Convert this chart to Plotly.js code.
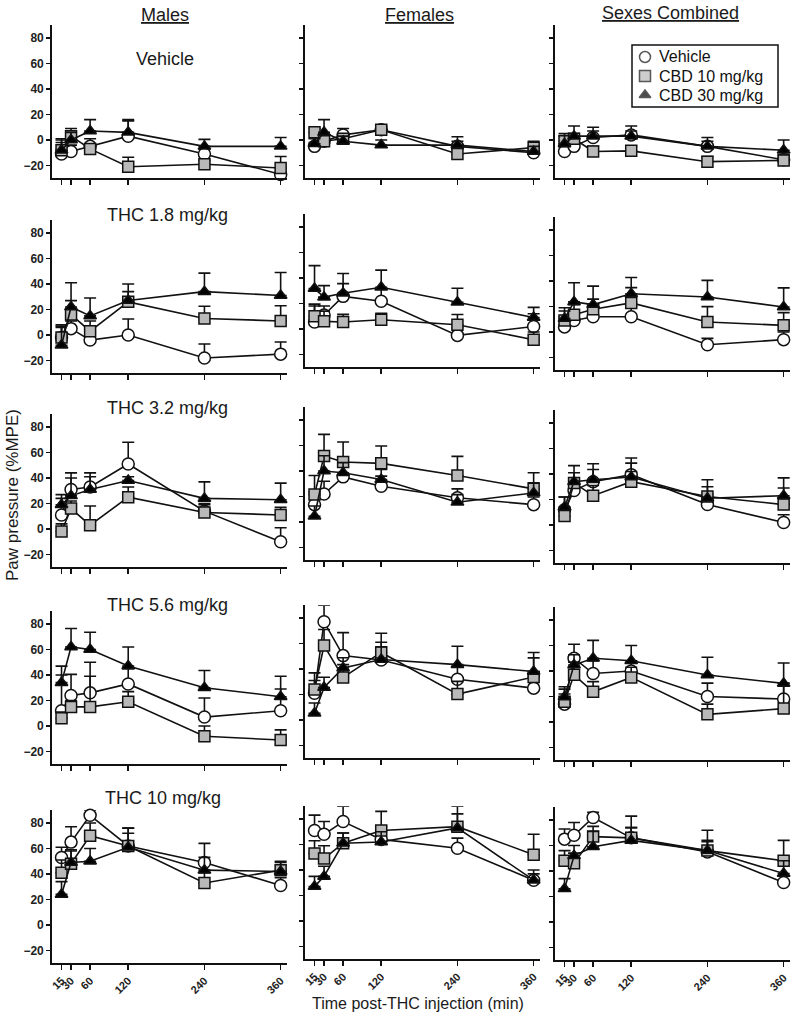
<!DOCTYPE html>
<html><head><meta charset="utf-8">
<script src="https://cdn.plot.ly/plotly-3.0.1.min.js"></script>
<style>html,body{margin:0;padding:0;background:#fff}</style>
</head><body><div id="chart" style="width:800px;height:1019px"></div>
<script>
// ---------- DATA ----------
const times = [15, 30, 60, 120, 240, 360];
const timeLabels = ['15', '30', '60', '120', '240', '360'];
const yTicks = [-20, 0, 20, 40, 60, 80];
const doseLabels = ['Vehicle', 'THC 1.8 mg/kg', 'THC 3.2 mg/kg', 'THC 5.6 mg/kg', 'THC 10 mg/kg'];
const columnTitles = ['Males', 'Females', 'Sexes Combined'];
const treatmentNames = ['Vehicle', 'CBD 10 mg/kg', 'CBD 30 mg/kg'];

// Males (rows = Vehicle, THC 1.8, 3.2, 5.6, 10)
const maleVeh = [[-11,-9,-5,3,-11,-27],[-2,5,-4,0,-18,-15],[11,31,33,51,14,-10],[12,24,26,33,7,12],[53,65,86,62,49,31]];
const maleVehErr = [[12,5,6,12,4,0],[8,6,5,12.5,11,9.5],[13,13,11,17,6,11],[28,16.5,24,12,15,17],[8,12,4,14,15,6]];
const maleC10 = [[-8,3,-7,-21,-19,-22],[-2,16,3,26,13,11],[-2,16,3,25,13,11],[6,15,15,19,-8,-11],[41,48,70,62,33,43]];
const maleC10Err = [[8,6,4,7.5,3,9],[10,11,8,8,9.5,12],[6,6,15,8,6,6],[5,5,24,8,8,8],[10,10,10,10,8,6]];
const maleC30 = [[-8,0,7,6,-5,-5],[-8,22,15,27,34,31],[19,26,31,38,24,23],[34,62,60,47,30,23],[24,49,50,61,43,42]];
const maleC30Err = [[6,6,9,10,5.5,7],[15,19,14,13,14.5,18],[8,14,10,3,13,13],[13,14.5,13.5,15,13.5,16],[10,10,10,15,10,8]];

// Females
const femVeh = [[-5,-1,4,8,-5,-10],[5.5,11,25.6,21.7,-5,2],[13.6,22,35.4,28,19,13.6],[21,77,50.5,47,32,25],[71,68,78,64,57,32]];
const femVehErr = [[3,4,5,3,4,3],[14,7,10,10,6,10],[10,10,8,8,7,6],[10,13,18,14,10,10],[12,10,12,10,8,5]];
const femC10 = [[6,-1,1,8,-11,-6],[10,6,5.5,7.3,3.4,-8.4],[21.5,51.7,47,46,36.5,26],[24,58.4,33.4,53,20.3,33.7],[53,49,61,71,74,52]];
const femC10Err = [[3,4,3,3,4,5],[8,8,6,5,8,6],[15,17,15.7,13.6,15,12.6],[13,12.6,10,15,10,15],[10,10,8,15,10,16]];
const femC30 = [[-3,6,-1,-4,-4,-9],[31.7,25,28,32.7,21,9],[4.5,40,38.6,33.3,15.5,22.8],[5.3,25.5,40.8,47.4,43.4,38],[27,35,61,62,73,32]];
const femC30Err = [[4,10,4,4,6.5,4],[18,9,15.5,13.5,11,8],[8,12,8,8,6,8],[8,8,8,10,14.5,15],[8,8,8,8,17,8]];

// Sexes combined
const combVeh = [[-9,-5,2,4,-5,-15.5],[4,9,12,12,-10,-6],[12,27,34,39.5,16,2],[14,50,38,40,20,18],[65,68,82,66,55,31]];
const combVehErr = [[4,6,8,7,7,4],[8,8,8,8,5,6],[10,8,14,9,8,6],[8,11,10,8,10.5,10],[8,10,4,8,8,5]];
const combC10 = [[-1,1,-9,-8.5,-17,-16],[9,13.6,17.8,22.8,7.9,5.2],[7,33,23,34,22.4,16],[15.8,37,23.7,35,6,10.5],[48,46,67,66,56,48]];
const combC10Err = [[4,4,4,4,4,4],[10,8,8,12,12,10],[6,8,8,8,7.6,13],[10,10,8,8,8,20],[8,8,8,8,8,16]];
const combC30 = [[-3,3,3,3,-5,-8],[10.5,23.6,21.5,30,27.5,19.6],[14,34,35.5,37.6,21,23],[19.7,44.7,50,48,36.8,30.3],[26,52,59,64,56,38]];
const combC30Err = [[8,8,4,4,4,8],[6,15,14.5,12.7,13,15],[8,12.6,8,15,14.5,14],[8,8,14,12,14,16],[8,8,12,19,16,10]];

// ---------- LAYOUT GEOMETRY ----------
const W = 800, H = 1019;
const FONT = 'Liberation Sans, Arial, Helvetica, sans-serif';
const colX = [[52, 287], [305, 540], [555, 790]];
const zeroY = [[140,140,140],[335,329,332],[529,522,525],[726,720,722],[925,921,922]];
const PXU = 1.275;   // px per unit
const Y0 = -30, Y1 = 90;
// legend box (px): left, right, top, bottom; symbol column and row centres
const LEG = {l: 632, r: 778, t: 45, b: 107, symX: 645, textX: 658, rows: [57, 76, 95]};

const styles = [
  {symbol: 'circle', size: 12, color: '#ffffff'},
  {symbol: 'square', size: 11, color: '#b9b9b9'},
  {symbol: 'triangle-up', size: 11, color: '#000000'}
];
const seriesByCol = [[maleVeh, maleC10, maleC30], [femVeh, femC10, femC30], [combVeh, combC10, combC30]];
const errByCol = [[maleVehErr, maleC10Err, maleC30Err], [femVehErr, femC10Err, femC30Err], [combVehErr, combC10Err, combC30Err]];

const traces = [];
const layout = {
  width: W, height: H,
  margin: {l: 0, r: 0, t: 0, b: 0},
  paper_bgcolor: '#ffffff', plot_bgcolor: 'rgba(0,0,0,0)',
  font: {family: FONT, color: '#1a1a1a'},
  showlegend: false,
  annotations: [], shapes: []
};

for (let r = 0; r < 5; r++) {
  for (let c = 0; c < 3; c++) {
    const p = r * 3 + c + 1;
    const sfx = p === 1 ? '' : String(p);
    const z = zeroY[r][c];
    const topPx = z - (Y1 * PXU), botPx = z - (Y0 * PXU);
    layout['xaxis' + sfx] = {
      domain: [colX[c][0] / W, colX[c][1] / W],
      range: [0, 370], anchor: 'y' + sfx,
      showline: true, linecolor: '#111', linewidth: 1.8,
      ticks: 'outside', ticklen: 5, tickwidth: 1.6, tickcolor: '#111',
      tickmode: 'array', tickvals: times, ticktext: timeLabels,
      showticklabels: r === 4, tickangle: -45,
      tickfont: {family: FONT, size: 11, color: '#222', weight: 'bold'},
      showgrid: false, zeroline: false, fixedrange: true
    };
    layout['yaxis' + sfx] = {
      domain: [1 - botPx / H, 1 - topPx / H],
      range: [Y0, Y1], anchor: 'x' + sfx,
      showline: true, linecolor: '#111', linewidth: 1.8,
      ticks: 'outside', ticklen: 4, tickwidth: 1.6, tickcolor: '#111',
      tickmode: 'array', tickvals: yTicks,
      showticklabels: c === 0,
      tickfont: {family: FONT, size: 12, color: '#222', weight: 'bold'},
      showgrid: false, zeroline: false, fixedrange: true
    };
    for (let s = 0; s < 3; s++) {
      const st = styles[s];
      traces.push({
        type: 'scatter', mode: 'lines+markers',
        x: times, y: seriesByCol[c][s][r],
        xaxis: 'x' + sfx, yaxis: 'y' + sfx,
        showlegend: false, cliponaxis: false,
        line: {color: '#111', width: 1.6},
        marker: {symbol: st.symbol, size: st.size, color: st.color, line: {color: '#111', width: 1.5}},
        error_y: {type: 'data', symmetric: false, array: errByCol[c][s][r],
                  arrayminus: times.map(() => 0), color: '#111', thickness: 1.6, width: 6},
        hoverinfo: 'skip'
      });
    }
  }
}

// ---------- custom legend (hidden axis spanning the legend box, in px units) ----------
layout.xaxis16 = {domain: [LEG.l / W, LEG.r / W], range: [LEG.l, LEG.r], visible: false, fixedrange: true, anchor: 'y16'};
layout.yaxis16 = {domain: [1 - LEG.b / H, 1 - LEG.t / H], range: [LEG.b, LEG.t], visible: false, fixedrange: true, anchor: 'x16'};
layout.shapes.push({type: 'rect', xref: 'paper', yref: 'paper',
  x0: LEG.l / W, x1: LEG.r / W, y0: 1 - LEG.b / H, y1: 1 - LEG.t / H,
  line: {color: '#111', width: 1.5}, fillcolor: '#ffffff', layer: 'below'});
traces.push({
  type: 'scatter', mode: 'markers', xaxis: 'x16', yaxis: 'y16', showlegend: false, hoverinfo: 'skip',
  x: styles.map(() => LEG.symX), y: LEG.rows, cliponaxis: false,
  marker: {symbol: styles.map(s => s.symbol), size: [11, 11, 10], color: styles.map(s => s.color),
           line: {color: '#111', width: 1.5}}
});
treatmentNames.forEach((t, i) => layout.annotations.push({
  text: t, xref: 'paper', yref: 'paper', x: LEG.textX / W, y: 1 - LEG.rows[i] / H,
  xanchor: 'left', yanchor: 'middle', showarrow: false, borderpad: 0,
  font: {family: FONT, size: 16, color: '#111'}
}));

function ann(text, xpx, ypx, size, angle) {
  layout.annotations.push({
    text: text, xref: 'paper', yref: 'paper', x: xpx / W, y: 1 - ypx / H,
    xanchor: 'center', yanchor: 'middle', showarrow: false, textangle: angle || 0,
    font: {family: FONT, size: size, color: '#1a1a1a'}
  });
}
const colTitleX = [165, 419, 670];
const colTitleY = [15, 15, 13];
columnTitles.forEach((t, i) => ann('<u>' + t + '</u>', colTitleX[i], colTitleY[i], 18));
const doseX = [165, 167, 167, 167, 163];
const doseY = [59, 215, 408, 605, 798];
doseLabels.forEach((t, i) => ann(t, doseX[i], doseY[i], 18));
ann('Paw pressure (%MPE)', 13, 495, 17, -90);
ann('Time post-THC injection (min)', 418, 1003, 16);

Plotly.newPlot('chart', traces, layout, {staticPlot: true, displayModeBar: false});
</script></body></html>
